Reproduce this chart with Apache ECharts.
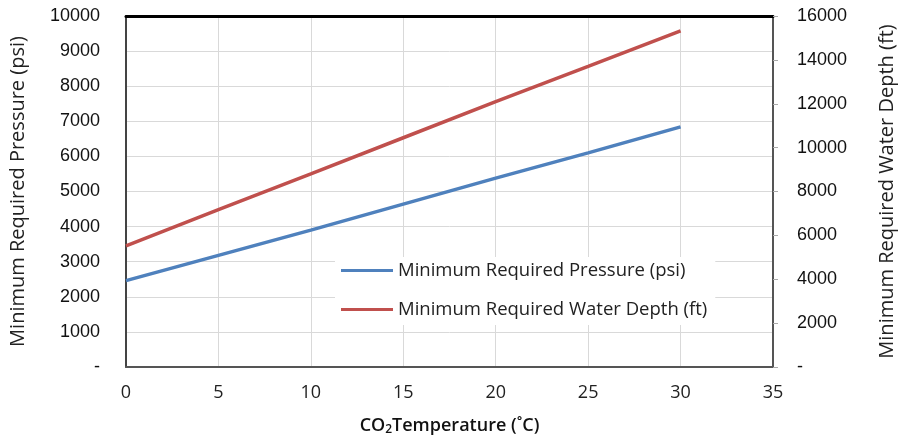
<!DOCTYPE html>
<html>
<head>
  <meta charset="utf-8">
  <title>CO2 temperature</title>
  <script src="https://cdn.jsdelivr.net/npm/echarts/dist/echarts.min.js"></script>
  <style>
    html, body { margin: 0; padding: 0; background: #fff; }
    #main { width: 905px; height: 441px; }
  </style>
</head>
<body>

<div id="main"></div>

<script>
  const temperature = [0, 5, 10, 15, 20, 25, 30];
  const pressurePsi = [2460, 3180, 3900, 4640, 5380, 6100, 6840];
  const waterDepthFt = [5520, 7170, 8800, 10450, 12100, 13700, 15320];

  const pressureName = 'Minimum Required Pressure (psi)';
  const depthName = 'Minimum Required Water Depth (ft)';

  const myChart = echarts.init(document.getElementById('main'));

  const axisFont = 'Liberation Sans, Arial, sans-serif';
  const textFont = 'Open Sans, Noto Sans, sans-serif';

  const option = {
    animation: false,
    backgroundColor: '#fff',
    grid: { left: 126, right: 132, top: 16, bottom: 71 },
    legend: {
      orient: 'vertical',
      left: 335,
      top: 257,
      backgroundColor: '#fff',
      padding: [4, 8, 6, 6],
      itemWidth: 52,
      itemHeight: 14,
      itemGap: 20,
      icon: 'path://M0,6 L52,6 L52,9 L0,9 Z',
      textStyle: { fontFamily: textFont, fontSize: 18.5, color: '#222' },
      data: [pressureName, depthName]
    },
    xAxis: [
      {
        type: 'value',
        min: 0,
        max: 35,
        interval: 5,
        name: '{b|CO}{s|2}{b|Temperature (˚C)}',
        nameLocation: 'middle',
        nameGap: 48,
        nameTextStyle: {
          rich: {
            b: { fontFamily: textFont, fontSize: 18, color: '#111', fontWeight: 600 },
            s: { fontFamily: textFont, fontSize: 12, color: '#111', fontWeight: 600, padding: [9, 0, 0, 0] }
          }
        },
        axisLine: { onZero: false, lineStyle: { color: '#555', width: 2 } },
        axisTick: { show: false },
        axisLabel: { fontFamily: textFont, fontSize: 18, color: '#222', margin: 17 },
        splitLine: { lineStyle: { color: '#d9d9d9', width: 1 } }
      },
      {
        type: 'value',
        position: 'top',
        min: 0,
        max: 35,
        axisLine: { show: true, onZero: false, lineStyle: { color: '#000', width: 3 } },
        axisTick: { show: false },
        axisLabel: { show: false },
        splitLine: { show: false }
      }
    ],
    yAxis: [
      {
        type: 'value',
        min: 0,
        max: 10000,
        interval: 1000,
        position: 'left',
        name: pressureName,
        nameLocation: 'middle',
        nameGap: 98,
        nameTextStyle: { fontFamily: textFont, fontSize: 20, color: '#222' },
        axisLine: { show: true, onZero: false, lineStyle: { color: '#444', width: 2 } },
        axisTick: { show: false },
        axisLabel: {
          fontFamily: axisFont,
          fontSize: 18,
          color: '#111',
          margin: 26,
          formatter: v => (v === 0 ? '-' : String(v))
        },
        splitLine: { lineStyle: { color: '#d9d9d9', width: 1 } }
      },
      {
        type: 'value',
        min: 0,
        max: 16000,
        interval: 2000,
        position: 'right',
        name: depthName,
        nameLocation: 'middle',
        nameGap: 104,
        nameRotate: 90,
        nameTextStyle: { fontFamily: textFont, fontSize: 20, color: '#222' },
        axisLine: { show: true, onZero: false, lineStyle: { color: '#555', width: 2 } },
        axisTick: { show: true, length: 5, lineStyle: { color: '#aaa' } },
        axisLabel: {
          fontFamily: axisFont,
          fontSize: 18,
          color: '#111',
          margin: 24,
          formatter: v => (v === 0 ? '-' : String(v))
        },
        splitLine: { show: false }
      }
    ],
    series: [
      {
        name: pressureName,
        type: 'line',
        yAxisIndex: 0,
        showSymbol: false,
        smooth: false,
        color: '#4f81bd',
        lineStyle: { width: 3.5, color: '#4f81bd' },
        data: temperature.map((t, i) => [t, pressurePsi[i]])
      },
      {
        name: depthName,
        type: 'line',
        yAxisIndex: 1,
        showSymbol: false,
        smooth: false,
        color: '#c0504d',
        lineStyle: { width: 3.5, color: '#c0504d' },
        data: temperature.map((t, i) => [t, waterDepthFt[i]])
      }
    ]
  };

  myChart.setOption(option);
</script>
</body>
</html>
